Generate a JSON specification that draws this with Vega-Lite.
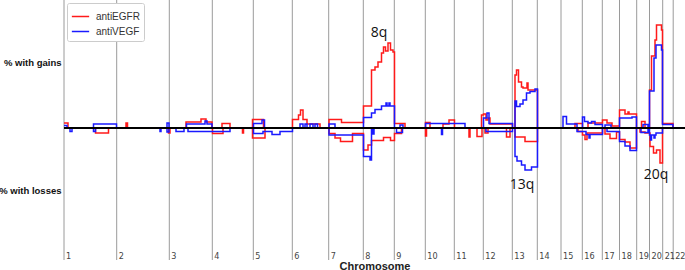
{
"$schema": "https://vega.github.io/schema/vega-lite/v6.json",
"width": 621, "height": 260,
"autosize": {"type": "none"},
"padding": {"left": 64, "top": 0, "right": 0, "bottom": 10},
"config": {"view": {"stroke": null}, "font": "Liberation Sans"},
"datasets": {
"cnv": [
{"series":"antiEGFR","kind":"gain","pos":0,"pct":2.5},{"series":"antiEGFR","kind":"gain","pos":4,"pct":0},{"series":"antiEGFR","kind":"gain","pos":62,"pct":2.5},{"series":"antiEGFR","kind":"gain","pos":63.5,"pct":0},{"series":"antiEGFR","kind":"gain","pos":122,"pct":3},{"series":"antiEGFR","kind":"gain","pos":137,"pct":4.5},{"series":"antiEGFR","kind":"gain","pos":142,"pct":3},{"series":"antiEGFR","kind":"gain","pos":148,"pct":0},{"series":"antiEGFR","kind":"gain","pos":158,"pct":2.2},{"series":"antiEGFR","kind":"gain","pos":166,"pct":0},{"series":"antiEGFR","kind":"gain","pos":188.5,"pct":4.3},{"series":"antiEGFR","kind":"gain","pos":199.5,"pct":0},{"series":"antiEGFR","kind":"gain","pos":228.5,"pct":4.3},{"series":"antiEGFR","kind":"gain","pos":234.5,"pct":6.5},{"series":"antiEGFR","kind":"gain","pos":236.5,"pct":9},{"series":"antiEGFR","kind":"gain","pos":239,"pct":4.3},{"series":"antiEGFR","kind":"gain","pos":243,"pct":2},{"series":"antiEGFR","kind":"gain","pos":256,"pct":0},{"series":"antiEGFR","kind":"gain","pos":265,"pct":4.3},{"series":"antiEGFR","kind":"gain","pos":277.5,"pct":2.8},{"series":"antiEGFR","kind":"gain","pos":299.5,"pct":11},{"series":"antiEGFR","kind":"gain","pos":307.5,"pct":29},{"series":"antiEGFR","kind":"gain","pos":311,"pct":30.5},{"series":"antiEGFR","kind":"gain","pos":314,"pct":33},{"series":"antiEGFR","kind":"gain","pos":317.5,"pct":37.5},{"series":"antiEGFR","kind":"gain","pos":319.5,"pct":40.5},{"series":"antiEGFR","kind":"gain","pos":321.5,"pct":38.5},{"series":"antiEGFR","kind":"gain","pos":324,"pct":42.5},{"series":"antiEGFR","kind":"gain","pos":326.5,"pct":39},{"series":"antiEGFR","kind":"gain","pos":329,"pct":38},{"series":"antiEGFR","kind":"gain","pos":330.5,"pct":2.3},{"series":"antiEGFR","kind":"gain","pos":341,"pct":0},{"series":"antiEGFR","kind":"gain","pos":361.5,"pct":2.8},{"series":"antiEGFR","kind":"gain","pos":366,"pct":0},{"series":"antiEGFR","kind":"gain","pos":379,"pct":2},{"series":"antiEGFR","kind":"gain","pos":385,"pct":4},{"series":"antiEGFR","kind":"gain","pos":390.5,"pct":0},{"series":"antiEGFR","kind":"gain","pos":417.5,"pct":6.5},{"series":"antiEGFR","kind":"gain","pos":419.5,"pct":7},{"series":"antiEGFR","kind":"gain","pos":422,"pct":4},{"series":"antiEGFR","kind":"gain","pos":424,"pct":5},{"series":"antiEGFR","kind":"gain","pos":426,"pct":2},{"series":"antiEGFR","kind":"gain","pos":448.5,"pct":0},{"series":"antiEGFR","kind":"gain","pos":451,"pct":26.5},{"series":"antiEGFR","kind":"gain","pos":452.5,"pct":29},{"series":"antiEGFR","kind":"gain","pos":454.5,"pct":23},{"series":"antiEGFR","kind":"gain","pos":457.5,"pct":20.5},{"series":"antiEGFR","kind":"gain","pos":459,"pct":20},{"series":"antiEGFR","kind":"gain","pos":463,"pct":22.5},{"series":"antiEGFR","kind":"gain","pos":464,"pct":19},{"series":"antiEGFR","kind":"gain","pos":473.5,"pct":0},{"series":"antiEGFR","kind":"gain","pos":511,"pct":2.3},{"series":"antiEGFR","kind":"gain","pos":518.5,"pct":0},{"series":"antiEGFR","kind":"gain","pos":524,"pct":2.5},{"series":"antiEGFR","kind":"gain","pos":538.5,"pct":4},{"series":"antiEGFR","kind":"gain","pos":543,"pct":2.5},{"series":"antiEGFR","kind":"gain","pos":548,"pct":1},{"series":"antiEGFR","kind":"gain","pos":555.5,"pct":9},{"series":"antiEGFR","kind":"gain","pos":561,"pct":7},{"series":"antiEGFR","kind":"gain","pos":564,"pct":8},{"series":"antiEGFR","kind":"gain","pos":565,"pct":7},{"series":"antiEGFR","kind":"gain","pos":572.5,"pct":0},{"series":"antiEGFR","kind":"gain","pos":577.5,"pct":3.3},{"series":"antiEGFR","kind":"gain","pos":581,"pct":0},{"series":"antiEGFR","kind":"gain","pos":585.5,"pct":19},{"series":"antiEGFR","kind":"gain","pos":587.5,"pct":36},{"series":"antiEGFR","kind":"gain","pos":591,"pct":44},{"series":"antiEGFR","kind":"gain","pos":592.5,"pct":51.5},{"series":"antiEGFR","kind":"gain","pos":597.5,"pct":49},{"series":"antiEGFR","kind":"gain","pos":598.5,"pct":2.3},{"series":"antiEGFR","kind":"gain","pos":609,"pct":0},{"series":"antiEGFR","kind":"gain","pos":621,"pct":0},
{"series":"antiEGFR","kind":"loss","pos":0,"pct":0},{"series":"antiEGFR","kind":"loss","pos":31.5,"pct":-2.5},{"series":"antiEGFR","kind":"loss","pos":44.5,"pct":0},{"series":"antiEGFR","kind":"loss","pos":104.5,"pct":-2.5},{"series":"antiEGFR","kind":"loss","pos":106,"pct":0},{"series":"antiEGFR","kind":"loss","pos":148.5,"pct":-2.8},{"series":"antiEGFR","kind":"loss","pos":159,"pct":0},{"series":"antiEGFR","kind":"loss","pos":178.5,"pct":-2.5},{"series":"antiEGFR","kind":"loss","pos":179.5,"pct":0},{"series":"antiEGFR","kind":"loss","pos":188.5,"pct":-5},{"series":"antiEGFR","kind":"loss","pos":201,"pct":0},{"series":"antiEGFR","kind":"loss","pos":265,"pct":-2.8},{"series":"antiEGFR","kind":"loss","pos":271,"pct":-5},{"series":"antiEGFR","kind":"loss","pos":276.5,"pct":-6.8},{"series":"antiEGFR","kind":"loss","pos":288.5,"pct":-2.8},{"series":"antiEGFR","kind":"loss","pos":299.5,"pct":-11},{"series":"antiEGFR","kind":"loss","pos":304,"pct":-8.5},{"series":"antiEGFR","kind":"loss","pos":307.5,"pct":-6.3},{"series":"antiEGFR","kind":"loss","pos":319.5,"pct":-4.8},{"series":"antiEGFR","kind":"loss","pos":326.5,"pct":-6.3},{"series":"antiEGFR","kind":"loss","pos":330.5,"pct":-2.8},{"series":"antiEGFR","kind":"loss","pos":337.5,"pct":0},{"series":"antiEGFR","kind":"loss","pos":361.5,"pct":-4},{"series":"antiEGFR","kind":"loss","pos":362.5,"pct":0},{"series":"antiEGFR","kind":"loss","pos":405,"pct":-4.5},{"series":"antiEGFR","kind":"loss","pos":406,"pct":0},{"series":"antiEGFR","kind":"loss","pos":413,"pct":-4.3},{"series":"antiEGFR","kind":"loss","pos":418,"pct":0},{"series":"antiEGFR","kind":"loss","pos":421,"pct":-2.5},{"series":"antiEGFR","kind":"loss","pos":424,"pct":0},{"series":"antiEGFR","kind":"loss","pos":442.5,"pct":-4.5},{"series":"antiEGFR","kind":"loss","pos":446,"pct":0},{"series":"antiEGFR","kind":"loss","pos":451,"pct":-4.5},{"series":"antiEGFR","kind":"loss","pos":461,"pct":-6.8},{"series":"antiEGFR","kind":"loss","pos":473.5,"pct":0},{"series":"antiEGFR","kind":"loss","pos":514,"pct":-1.8},{"series":"antiEGFR","kind":"loss","pos":518.5,"pct":-3.5},{"series":"antiEGFR","kind":"loss","pos":521,"pct":-5.8},{"series":"antiEGFR","kind":"loss","pos":523,"pct":-2.5},{"series":"antiEGFR","kind":"loss","pos":538.5,"pct":0},{"series":"antiEGFR","kind":"loss","pos":541,"pct":-3},{"series":"antiEGFR","kind":"loss","pos":546,"pct":-5.3},{"series":"antiEGFR","kind":"loss","pos":552.5,"pct":-2},{"series":"antiEGFR","kind":"loss","pos":555.5,"pct":-5.8},{"series":"antiEGFR","kind":"loss","pos":561,"pct":-7},{"series":"antiEGFR","kind":"loss","pos":566,"pct":-10},{"series":"antiEGFR","kind":"loss","pos":572.5,"pct":0},{"series":"antiEGFR","kind":"loss","pos":576,"pct":-2},{"series":"antiEGFR","kind":"loss","pos":581,"pct":-2.5},{"series":"antiEGFR","kind":"loss","pos":586,"pct":-9.3},{"series":"antiEGFR","kind":"loss","pos":589.5,"pct":-12.5},{"series":"antiEGFR","kind":"loss","pos":592.5,"pct":-11},{"series":"antiEGFR","kind":"loss","pos":596,"pct":-17.5},{"series":"antiEGFR","kind":"loss","pos":598.5,"pct":0},{"series":"antiEGFR","kind":"loss","pos":621,"pct":0},
{"series":"antiVEGF","kind":"gain","pos":0,"pct":1.3},{"series":"antiVEGF","kind":"gain","pos":3,"pct":0},{"series":"antiVEGF","kind":"gain","pos":29.5,"pct":2},{"series":"antiVEGF","kind":"gain","pos":52.5,"pct":0},{"series":"antiVEGF","kind":"gain","pos":103,"pct":2.5},{"series":"antiVEGF","kind":"gain","pos":105,"pct":0},{"series":"antiVEGF","kind":"gain","pos":122.5,"pct":2},{"series":"antiVEGF","kind":"gain","pos":141,"pct":3.5},{"series":"antiVEGF","kind":"gain","pos":143,"pct":2},{"series":"antiVEGF","kind":"gain","pos":148,"pct":0},{"series":"antiVEGF","kind":"gain","pos":189.5,"pct":2.3},{"series":"antiVEGF","kind":"gain","pos":198,"pct":4},{"series":"antiVEGF","kind":"gain","pos":200.5,"pct":0},{"series":"antiVEGF","kind":"gain","pos":236,"pct":2},{"series":"antiVEGF","kind":"gain","pos":239,"pct":0},{"series":"antiVEGF","kind":"gain","pos":241,"pct":2},{"series":"antiVEGF","kind":"gain","pos":243,"pct":0},{"series":"antiVEGF","kind":"gain","pos":246,"pct":2},{"series":"antiVEGF","kind":"gain","pos":249,"pct":0},{"series":"antiVEGF","kind":"gain","pos":251,"pct":2},{"series":"antiVEGF","kind":"gain","pos":253.5,"pct":0},{"series":"antiVEGF","kind":"gain","pos":265,"pct":2},{"series":"antiVEGF","kind":"gain","pos":271,"pct":0},{"series":"antiVEGF","kind":"gain","pos":299.5,"pct":5.3},{"series":"antiVEGF","kind":"gain","pos":307.5,"pct":7.5},{"series":"antiVEGF","kind":"gain","pos":311,"pct":9.3},{"series":"antiVEGF","kind":"gain","pos":317.5,"pct":11},{"series":"antiVEGF","kind":"gain","pos":322,"pct":12.5},{"series":"antiVEGF","kind":"gain","pos":323,"pct":11},{"series":"antiVEGF","kind":"gain","pos":325,"pct":12.5},{"series":"antiVEGF","kind":"gain","pos":326,"pct":11},{"series":"antiVEGF","kind":"gain","pos":330.5,"pct":0},{"series":"antiVEGF","kind":"gain","pos":336,"pct":1.5},{"series":"antiVEGF","kind":"gain","pos":339,"pct":0},{"series":"antiVEGF","kind":"gain","pos":361.5,"pct":2.3},{"series":"antiVEGF","kind":"gain","pos":401,"pct":0},{"series":"antiVEGF","kind":"gain","pos":419.5,"pct":5},{"series":"antiVEGF","kind":"gain","pos":423,"pct":7.5},{"series":"antiVEGF","kind":"gain","pos":425,"pct":2.3},{"series":"antiVEGF","kind":"gain","pos":448.5,"pct":0},{"series":"antiVEGF","kind":"gain","pos":451,"pct":13.5},{"series":"antiVEGF","kind":"gain","pos":452.5,"pct":10.8},{"series":"antiVEGF","kind":"gain","pos":456,"pct":12},{"series":"antiVEGF","kind":"gain","pos":459,"pct":14},{"series":"antiVEGF","kind":"gain","pos":462.5,"pct":17.5},{"series":"antiVEGF","kind":"gain","pos":466,"pct":18.3},{"series":"antiVEGF","kind":"gain","pos":471,"pct":19.5},{"series":"antiVEGF","kind":"gain","pos":473.5,"pct":0},{"series":"antiVEGF","kind":"gain","pos":499,"pct":5.8},{"series":"antiVEGF","kind":"gain","pos":502.5,"pct":2},{"series":"antiVEGF","kind":"gain","pos":513,"pct":0},{"series":"antiVEGF","kind":"gain","pos":518.5,"pct":5.5},{"series":"antiVEGF","kind":"gain","pos":520.5,"pct":3.3},{"series":"antiVEGF","kind":"gain","pos":524,"pct":2.5},{"series":"antiVEGF","kind":"gain","pos":527.5,"pct":3.3},{"series":"antiVEGF","kind":"gain","pos":531,"pct":1.8},{"series":"antiVEGF","kind":"gain","pos":538.5,"pct":0},{"series":"antiVEGF","kind":"gain","pos":541,"pct":1.5},{"series":"antiVEGF","kind":"gain","pos":547,"pct":0},{"series":"antiVEGF","kind":"gain","pos":555.5,"pct":5},{"series":"antiVEGF","kind":"gain","pos":568,"pct":5.5},{"series":"antiVEGF","kind":"gain","pos":572.5,"pct":0},{"series":"antiVEGF","kind":"gain","pos":579,"pct":1.8},{"series":"antiVEGF","kind":"gain","pos":584,"pct":0},{"series":"antiVEGF","kind":"gain","pos":585.5,"pct":18.5},{"series":"antiVEGF","kind":"gain","pos":590,"pct":35},{"series":"antiVEGF","kind":"gain","pos":592,"pct":41.5},{"series":"antiVEGF","kind":"gain","pos":597.5,"pct":39},{"series":"antiVEGF","kind":"gain","pos":598.5,"pct":1.8},{"series":"antiVEGF","kind":"gain","pos":609,"pct":0},{"series":"antiVEGF","kind":"gain","pos":621,"pct":0},
{"series":"antiVEGF","kind":"loss","pos":0,"pct":0},{"series":"antiVEGF","kind":"loss","pos":6,"pct":-1.8},{"series":"antiVEGF","kind":"loss","pos":8,"pct":0},{"series":"antiVEGF","kind":"loss","pos":29.5,"pct":-1.8},{"series":"antiVEGF","kind":"loss","pos":31.5,"pct":0},{"series":"antiVEGF","kind":"loss","pos":96,"pct":-1.8},{"series":"antiVEGF","kind":"loss","pos":97,"pct":0},{"series":"antiVEGF","kind":"loss","pos":103,"pct":-2},{"series":"antiVEGF","kind":"loss","pos":105,"pct":0},{"series":"antiVEGF","kind":"loss","pos":112,"pct":-1.8},{"series":"antiVEGF","kind":"loss","pos":120,"pct":0},{"series":"antiVEGF","kind":"loss","pos":124,"pct":-1.8},{"series":"antiVEGF","kind":"loss","pos":166,"pct":0},{"series":"antiVEGF","kind":"loss","pos":189.5,"pct":-2.8},{"series":"antiVEGF","kind":"loss","pos":199,"pct":-1.8},{"series":"antiVEGF","kind":"loss","pos":208,"pct":-3.3},{"series":"antiVEGF","kind":"loss","pos":216,"pct":-1.8},{"series":"antiVEGF","kind":"loss","pos":228.5,"pct":0},{"series":"antiVEGF","kind":"loss","pos":265,"pct":-3.5},{"series":"antiVEGF","kind":"loss","pos":299.5,"pct":-14.3},{"series":"antiVEGF","kind":"loss","pos":306,"pct":-16},{"series":"antiVEGF","kind":"loss","pos":307.5,"pct":0},{"series":"antiVEGF","kind":"loss","pos":309,"pct":-3},{"series":"antiVEGF","kind":"loss","pos":310,"pct":0},{"series":"antiVEGF","kind":"loss","pos":332.5,"pct":-2.3},{"series":"antiVEGF","kind":"loss","pos":338.5,"pct":0},{"series":"antiVEGF","kind":"loss","pos":377.5,"pct":-3.3},{"series":"antiVEGF","kind":"loss","pos":378.5,"pct":0},{"series":"antiVEGF","kind":"loss","pos":422,"pct":-1.8},{"series":"antiVEGF","kind":"loss","pos":448.5,"pct":0},{"series":"antiVEGF","kind":"loss","pos":451,"pct":-14.3},{"series":"antiVEGF","kind":"loss","pos":453,"pct":-16.5},{"series":"antiVEGF","kind":"loss","pos":457.5,"pct":-18.5},{"series":"antiVEGF","kind":"loss","pos":461,"pct":-21},{"series":"antiVEGF","kind":"loss","pos":467.5,"pct":-19.5},{"series":"antiVEGF","kind":"loss","pos":473.5,"pct":0},{"series":"antiVEGF","kind":"loss","pos":513,"pct":-1.8},{"series":"antiVEGF","kind":"loss","pos":518.5,"pct":-1.8},{"series":"antiVEGF","kind":"loss","pos":522,"pct":-3.3},{"series":"antiVEGF","kind":"loss","pos":525,"pct":-5},{"series":"antiVEGF","kind":"loss","pos":526,"pct":-3.3},{"series":"antiVEGF","kind":"loss","pos":538.5,"pct":0},{"series":"antiVEGF","kind":"loss","pos":543,"pct":-1.8},{"series":"antiVEGF","kind":"loss","pos":555.5,"pct":-6.8},{"series":"antiVEGF","kind":"loss","pos":561,"pct":-9},{"series":"antiVEGF","kind":"loss","pos":566,"pct":-11.3},{"series":"antiVEGF","kind":"loss","pos":572.5,"pct":0},{"series":"antiVEGF","kind":"loss","pos":577,"pct":-2.3},{"series":"antiVEGF","kind":"loss","pos":584,"pct":0},{"series":"antiVEGF","kind":"loss","pos":585.5,"pct":-3.5},{"series":"antiVEGF","kind":"loss","pos":586.5,"pct":-6},{"series":"antiVEGF","kind":"loss","pos":587.5,"pct":-3.5},{"series":"antiVEGF","kind":"loss","pos":590,"pct":-5},{"series":"antiVEGF","kind":"loss","pos":591,"pct":-3.5},{"series":"antiVEGF","kind":"loss","pos":592,"pct":-2.5},{"series":"antiVEGF","kind":"loss","pos":598.5,"pct":0},{"series":"antiVEGF","kind":"loss","pos":621,"pct":0}
],
"chrom": [{"chr":"1","start":0},{"chr":"2","start":52.7},{"chr":"3","start":105.3},{"chr":"4","start":148.3},{"chr":"5","start":189.3},{"chr":"6","start":228.3},{"chr":"7","start":264.7},{"chr":"8","start":299.3},{"chr":"9","start":330.3},{"chr":"10","start":361.3},{"chr":"11","start":390.3},{"chr":"12","start":419.3},{"chr":"13","start":448.3},{"chr":"14","start":473.3},{"chr":"15","start":497},{"chr":"16","start":518.3},{"chr":"17","start":538.3},{"chr":"18","start":555.5},{"chr":"19","start":572.7},{"chr":"20","start":585.5},{"chr":"21","start":598.7},{"chr":"22","start":609.2}],
"notes": [{"label":"8q","pos":315,"pct":47.5},{"label":"13q","pos":458,"pct":-28.5},{"label":"20q","pos":592,"pct":-23.5}],
"zero": [{"level": 0}]
},
"layer": [
{"data": {"name": "chrom"},
 "mark": {"type": "rule", "color": "#9a9a9a", "strokeWidth": 1},
 "encoding": {"x": {"field": "start", "type": "quantitative", "scale": {"domain": [0, 621], "nice": false, "zero": false},
   "axis": {"title": "Chromosome", "labels": false, "ticks": false, "domain": false, "grid": false, "titleFontWeight": "bold", "titleFontSize": 11, "titlePadding": 0, "titleColor": "#222"}}}},
{"data": {"name": "chrom"},
 "mark": {"type": "text", "align": "left", "baseline": "bottom", "dx": 2, "dy": 1, "fontSize": 9, "font": "Liberation Sans Narrow, DejaVu Sans Condensed, sans-serif", "color": "#444"},
 "encoding": {"x": {"field": "start", "type": "quantitative"}, "y": {"datum": -66}, "text": {"field": "chr"}}},
{"data": {"name": "cnv"},
 "mark": {"type": "line", "interpolate": "step-after", "strokeWidth": 1.5},
 "encoding": {
   "x": {"field": "pos", "type": "quantitative"},
   "y": {"field": "pct", "type": "quantitative", "scale": {"domain": [-66, 64], "nice": false, "zero": false},
     "axis": {"values": [33, -31], "labelExpr": "datum.value > 0 ? '% with gains' : '% with losses'", "ticks": false, "domain": false, "grid": false, "title": null, "labelFontWeight": "bold", "labelFontSize": 9.5, "labelPadding": 3, "labelColor": "#111"}},
   "color": {"field": "series", "type": "nominal", "scale": {"domain": ["antiEGFR", "antiVEGF"], "range": ["#ff1a1a", "#1a1aff"]},
     "legend": {"orient": "top-left", "title": null, "symbolType": "stroke", "symbolStrokeWidth": 1.5, "symbolSize": 300, "labelFontSize": 10, "labelColor": "#333", "strokeColor": "#cccccc", "fillColor": "white", "padding": 4, "cornerRadius": 2, "offset": 3, "rowPadding": 0, "labelOffset": 6}},
   "detail": {"field": "kind", "type": "nominal"}}},
{"data": {"name": "zero"},
 "mark": {"type": "rule", "color": "black", "strokeWidth": 2},
 "encoding": {"y": {"field": "level", "type": "quantitative"}}},
{"data": {"name": "notes"},
 "mark": {"type": "text", "fontSize": 14, "font": "Open Sans", "color": "#111"},
 "encoding": {"x": {"field": "pos", "type": "quantitative"}, "y": {"field": "pct", "type": "quantitative"}, "text": {"field": "label"}}}
]
}
